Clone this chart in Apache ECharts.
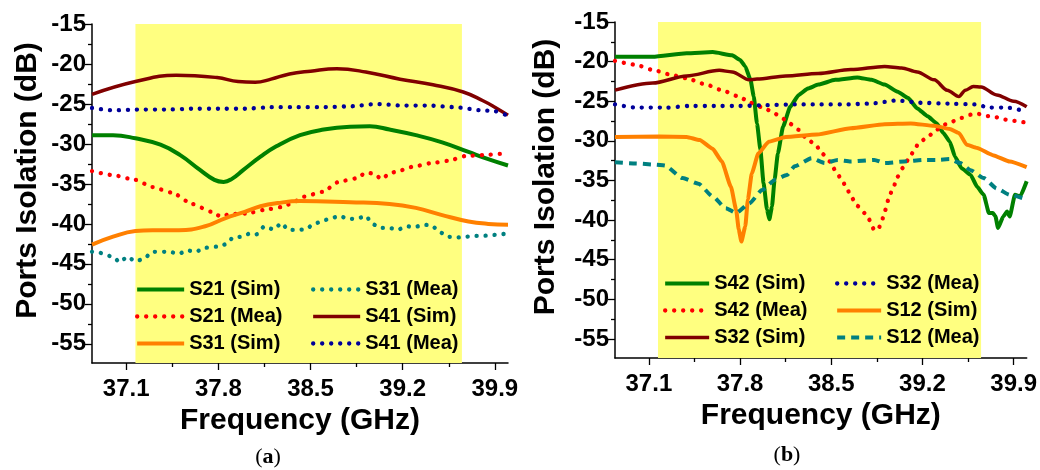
<!DOCTYPE html>
<html>
<head>
<meta charset="utf-8">
<script src="https://cdn.jsdelivr.net/npm/echarts@6/dist/echarts.min.js"></script>
<style>
  html, body { margin: 0; padding: 0; background: #fff; }
  #chart { width: 1040px; height: 470px; }
</style>
</head>
<body>
<div id="chart"></div>
<script>
// axis ticks
const freqTicks = [37.1, 37.8, 38.5, 39.2, 39.9];
const freqMinor = [37.45, 38.15, 38.85, 39.55];
const dbTicks = [-55, -50, -45, -40, -35, -30, -25, -20, -15];
const dbMinor = [-52.5, -47.5, -42.5, -37.5, -32.5, -27.5, -22.5, -17.5];
const band = [37.17, 39.65];

// panel (a)
const s21SimF = [36.84, 37.0, 37.17, 37.36, 37.51, 37.66, 37.77, 37.84, 37.9, 37.99, 38.12, 38.24, 38.42, 38.6, 38.8, 38.95, 39.1, 39.3, 39.5, 39.7, 39.85, 40.0];
const s21SimDb = [-28.9, -28.9, -29.3, -30.1, -31.4, -33.25, -34.5, -34.75, -34.4, -33.25, -31.6, -30.3, -28.9, -28.2, -27.85, -27.8, -28.2, -28.9, -29.8, -31.0, -31.9, -32.7];

const s21MeaF = [36.84, 37.0, 37.17, 37.3, 37.45, 37.6, 37.75, 37.82, 37.88, 38.01, 38.15, 38.28, 38.35, 38.45, 38.59, 38.72, 38.85, 38.92, 38.98, 39.04, 39.1, 39.16, 39.29, 39.42, 39.55, 39.68, 39.81, 39.94, 40.0];
const s21MeaDb = [-33.4, -33.9, -34.5, -35.4, -36.1, -37.5, -38.5, -39.1, -38.8, -38.7, -38.25, -37.9, -37.5, -36.6, -36.0, -34.7, -34.3, -33.6, -33.7, -34.4, -33.7, -33.4, -32.8, -32.4, -32.1, -31.5, -31.4, -31.25, -31.2];

const s31SimF = [36.84, 37.0, 37.17, 37.3, 37.5, 37.7, 37.85, 38.0, 38.12, 38.25, 38.42, 38.8, 39.1, 39.3, 39.5, 39.7, 39.85, 40.0];
const s31SimDb = [-42.6, -41.6, -40.9, -40.8, -40.8, -40.3, -39.3, -38.5, -37.8, -37.4, -37.15, -37.3, -37.5, -38.0, -38.9, -39.7, -40.0, -40.1];

const s31MeaF = [36.84, 36.87, 37.0, 37.05, 37.11, 37.17, 37.23, 37.3, 37.43, 37.5, 37.56, 37.63, 37.69, 37.82, 37.87, 37.91, 37.98, 38.04, 38.09, 38.15, 38.22, 38.28, 38.33, 38.39, 38.46, 38.52, 38.59, 38.66, 38.72, 38.79, 38.86, 38.92, 38.97, 39.03, 39.1, 39.16, 39.23, 39.29, 39.36, 39.42, 39.48, 39.54, 39.61, 39.68, 39.75, 39.81, 39.88, 39.94, 40.0];
const s31MeaDb = [-43.5, -43.5, -44.1, -44.8, -44.1, -44.7, -44.4, -43.5, -43.5, -43.75, -43.3, -43.5, -43.0, -42.8, -42.4, -41.7, -41.6, -41.2, -41.3, -40.3, -40.7, -39.9, -40.75, -40.75, -40.7, -40.1, -39.6, -39.3, -39.0, -39.4, -39.3, -39.0, -40.0, -40.5, -40.5, -40.75, -40.3, -40.4, -40.1, -40.2, -41.0, -41.6, -41.7, -41.6, -41.5, -41.5, -41.4, -41.3, -41.2];

const s41SimF = [36.84, 37.17, 37.48, 37.79, 37.95, 38.08, 38.2, 38.34, 38.5, 38.7, 38.92, 39.18, 39.43, 39.66, 39.81, 39.9, 40.0];
const s41SimDb = [-23.8, -22.2, -21.4, -21.7, -22.2, -22.3, -21.9, -21.25, -20.9, -20.6, -21.0, -21.9, -22.6, -23.5, -24.6, -25.4, -26.4];

const s41MeaF = [36.84, 37.0, 37.2, 37.4, 37.6, 37.8, 38.0, 38.2, 38.4, 38.6, 38.8, 39.0, 39.2, 39.4, 39.6, 39.8, 39.9, 40.0];
const s41MeaDb = [-25.5, -25.8, -25.7, -25.7, -25.6, -25.6, -25.6, -25.4, -25.4, -25.4, -25.3, -25.0, -25.2, -25.2, -25.4, -25.8, -25.9, -26.5];

// panel (b)
const s42SimF = [36.84, 37.13, 37.39, 37.59, 37.74, 37.80, 37.84, 37.88, 37.905, 37.93, 37.956, 37.98, 38.007, 38.025, 38.045, 38.065, 38.09, 38.13, 38.185, 38.25, 38.32, 38.4, 38.53, 38.7, 38.81, 38.91, 39.01, 39.09, 39.16, 39.24, 39.31, 39.36, 39.41, 39.45, 39.5, 39.57, 39.62, 39.67, 39.71, 39.74, 39.76, 39.78, 39.82, 39.85, 39.87, 39.91, 39.95, 40.0];
const s42SimDb = [-19.4, -19.4, -18.95, -18.8, -19.2, -19.8, -20.6, -22.3, -24.4, -27.8, -31.1, -35.3, -38.7, -39.9, -38.3, -34.9, -31.6, -28.2, -25.7, -24.2, -23.4, -22.9, -22.3, -22.0, -22.3, -22.9, -23.8, -24.6, -25.9, -26.9, -27.8, -29.0, -30.1, -32.0, -33.45, -34.3, -35.8, -36.8, -39.1, -39.1, -39.5, -41.0, -39.55, -38.9, -39.55, -36.8, -37.0, -35.1];

const s42MeaF = [36.84, 37.0, 37.13, 37.28, 37.39, 37.54, 37.66, 37.79, 37.88, 37.99, 38.06, 38.12, 38.18, 38.25, 38.31, 38.38, 38.43, 38.49, 38.53, 38.58, 38.62, 38.65, 38.7, 38.77, 38.83, 38.86, 38.89, 38.91, 38.95, 38.98, 39.01, 39.05, 39.09, 39.13, 39.17, 39.24, 39.3, 39.36, 39.42, 39.5, 39.57, 39.63, 39.69, 39.76, 39.83, 39.89, 39.95, 40.0];
const s42MeaDb = [-19.9, -20.4, -21.05, -21.7, -22.1, -22.9, -23.6, -24.4, -25.2, -25.9, -26.5, -27.1, -27.8, -28.6, -29.7, -30.5, -31.6, -32.6, -33.7, -34.9, -36.0, -37.0, -38.2, -39.3, -41.2, -41.2, -40.0, -38.9, -36.8, -35.7, -34.5, -33.4, -32.4, -31.4, -30.3, -29.5, -28.7, -28.0, -27.6, -27.1, -26.7, -26.6, -26.85, -27.0, -27.3, -27.45, -27.6, -27.7];

const s32SimF = [36.84, 37.13, 37.39, 37.64, 37.74, 37.87, 37.93, 38.15, 38.4, 38.65, 38.91, 39.04, 39.16, 39.29, 39.39, 39.48, 39.53, 39.59, 39.65, 39.77, 39.9, 40.0];
const s32SimDb = [-23.6, -22.7, -21.8, -21.1, -21.3, -22.3, -22.2, -21.8, -21.5, -21.0, -20.6, -20.8, -21.3, -22.3, -23.6, -24.4, -23.6, -23.15, -23.2, -24.2, -25.0, -25.7];

const s32MeaF = [36.84, 37.0, 37.24, 37.4, 37.6, 37.8, 38.0, 38.2, 38.4, 38.6, 38.8, 39.0, 39.2, 39.4, 39.6, 39.72, 39.85, 40.0];
const s32MeaDb = [-25.4, -25.8, -25.8, -25.6, -25.6, -25.6, -25.5, -25.4, -25.4, -25.4, -25.3, -24.9, -25.2, -25.3, -25.4, -25.8, -25.8, -26.3];

const s12SimF = [36.84, 37.18, 37.39, 37.49, 37.59, 37.66, 37.73, 37.77, 37.79, 37.81, 37.84, 37.86, 37.89, 37.94, 38.02, 38.15, 38.39, 38.65, 38.91, 39.11, 39.29, 39.41, 39.48, 39.54, 39.62, 39.74, 39.87, 40.0];
const s12SimDb = [-29.5, -29.45, -29.5, -29.9, -31.0, -32.6, -35.8, -38.7, -41.2, -42.7, -40.8, -37.4, -34.1, -31.6, -30.1, -29.5, -29.2, -28.4, -27.9, -27.8, -28.1, -28.5, -29.0, -30.5, -30.9, -31.8, -32.6, -33.3];

const s12MeaF = [36.84, 37.0, 37.15, 37.22, 37.36, 37.48, 37.59, 37.69, 37.77, 37.87, 37.97, 38.07, 38.16, 38.22, 38.35, 38.45, 38.55, 38.65, 38.83, 38.91, 39.06, 39.21, 39.31, 39.41, 39.49, 39.57, 39.67, 39.77, 39.87, 40.0];
const s12MeaDb = [-32.7, -32.85, -33.0, -33.1, -34.7, -35.4, -37.0, -38.5, -39.1, -37.9, -36.2, -34.9, -34.3, -33.2, -32.2, -32.8, -32.4, -32.6, -32.4, -32.8, -32.6, -32.4, -32.4, -32.3, -32.8, -33.7, -34.7, -36.0, -36.8, -37.4];

const font = '"Liberation Sans", Arial, sans-serif';
const dotted = [0.1, 8.9];
const dashed = [8, 6];

function curve(name, f, v, color, type, width, panel, smooth, monotone) {
    return {
        name: name,
        type: 'line',
        xAxisIndex: panel * 2,
        yAxisIndex: panel * 2,
        data: f.map((x, i) => [x, v[i]]),
        symbol: 'none',
        showSymbol: false,
        smooth: smooth,
        smoothMonotone: monotone ? 'x' : null,
        color: color,
        lineStyle: { color: color, width: width, type: type, cap: type === dotted ? 'round' : 'butt', join: 'round' },
        emphasis: { disabled: true },
        z: 3
    };
}

function xAxes(g) {
    const lbl = { fontFamily: font, fontWeight: 'bold', fontSize: 24, color: '#000' };
    return [{
        type: 'value', gridIndex: g, min: 36.84, max: 40.0, position: 'bottom',
        name: 'Frequency (GHz)', nameLocation: 'middle', nameGap: 36,
        nameTextStyle: { fontFamily: font, fontWeight: 'bold', fontSize: 30, color: '#000' },
        axisLine: { onZero: false, lineStyle: { color: '#000', width: 1.5 } },
        axisTick: { customValues: freqTicks, length: 7, lineStyle: { color: '#000', width: 1.3 } },
        axisLabel: Object.assign({ customValues: freqTicks, margin: 14, formatter: v => v.toFixed(1) }, lbl),
        splitLine: { show: false }
    }, {
        type: 'value', gridIndex: g, min: 36.84, max: 40.0, position: 'bottom',
        axisLine: { show: false, onZero: false },
        axisTick: { customValues: freqMinor, length: 4, lineStyle: { color: '#000', width: 1.3 } },
        axisLabel: { show: false },
        splitLine: { show: false }
    }];
}

function yAxes(g, gap) {
    const lbl = { fontFamily: font, fontWeight: 'bold', fontSize: 24, color: '#000' };
    return [{
        type: 'value', gridIndex: g, min: -57.4, max: -15, position: 'left',
        name: 'Ports Isolation (dB)', nameLocation: 'middle', nameRotate: 90, nameGap: gap,
        nameTextStyle: { fontFamily: font, fontWeight: 'bold', fontSize: 30, color: '#000', padding: [0, 0, 0, 26] },
        axisLine: { show: true, onZero: false, lineStyle: { color: '#000', width: 1.5 } },
        axisTick: { customValues: dbTicks, length: 7, lineStyle: { color: '#000', width: 1.3 } },
        axisLabel: Object.assign({ customValues: dbTicks, margin: 6 }, lbl),
        splitLine: { show: false }
    }, {
        type: 'value', gridIndex: g, min: -57.4, max: -15, position: 'left',
        axisLine: { show: false, onZero: false },
        axisTick: { customValues: dbMinor, length: 4, lineStyle: { color: '#000', width: 1.3 } },
        axisLabel: { show: false },
        splitLine: { show: false }
    }];
}

function legendCol(names, left, top, itemWidth) {
    return {
        data: names, orient: 'vertical', left: left, top: top,
        itemWidth: itemWidth, itemHeight: 14, itemGap: 0, padding: 0,
        selectedMode: false,
        lineStyle: { width: 'inherit' },
        itemStyle: { color: 'transparent', borderWidth: 0, opacity: 0 },
        textStyle: { fontFamily: font, fontWeight: 'bold', fontSize: 20, lineHeight: 27, color: '#000' }
    };
}

const green = '#008000', red = '#ff0000', orange = '#ff8000', teal = '#008080', maroon = '#800000', navy = '#000099';

const series = [
    curve('S21 (Sim)', s21SimF, s21SimDb, green, 'solid', 4, 0, 0.45, false),
    curve('S21 (Mea)', s21MeaF, s21MeaDb, red, dotted, 4.3, 0, 0.2, true),
    curve('S31 (Sim)', s31SimF, s31SimDb, orange, 'solid', 4, 0, 0.45, false),
    curve('S31 (Mea)', s31MeaF, s31MeaDb, teal, dotted, 4.3, 0, 0.2, true),
    curve('S41 (Sim)', s41SimF, s41SimDb, maroon, 'solid', 3.5, 0, 0.45, false),
    curve('S41 (Mea)', s41MeaF, s41MeaDb, navy, dotted, 4.3, 0, 0.2, true),
    curve('S42 (Sim)', s42SimF, s42SimDb, green, 'solid', 4, 1, 0.15, true),
    curve('S42 (Mea)', s42MeaF, s42MeaDb, red, dotted, 4.3, 1, 0.2, true),
    curve('S32 (Sim)', s32SimF, s32SimDb, maroon, 'solid', 3.5, 1, 0.3, true),
    curve('S32 (Mea)', s32MeaF, s32MeaDb, navy, dotted, 4.3, 1, 0.2, true),
    curve('S12 (Sim)', s12SimF, s12SimDb, orange, 'solid', 4, 1, 0.15, true),
    curve('S12 (Mea)', s12MeaF, s12MeaDb, teal, dashed, 4, 1, 0.2, true)
];
// yellow band behind both panels
[0, 6].forEach(i => {
    series[i].markArea = {
        silent: true,
        itemStyle: { color: '#ffff80' },
        data: [[{ xAxis: band[0] }, { xAxis: band[1] }]]
    };
});

const chart = echarts.init(document.getElementById('chart'));
chart.setOption({
    animation: false,
    backgroundColor: '#fff',
    grid: [
        { left: 92, top: 24, width: 416, bottom: 107 },
        { left: 615, top: 22, width: 413, bottom: 112 }
    ],
    xAxis: xAxes(0).concat(xAxes(1)),
    yAxis: yAxes(0, 49).concat(yAxes(1, 54)),
    legend: [
        legendCol(['S21 (Sim)', 'S21 (Mea)', 'S31 (Sim)'], 135, 276, 47),
        legendCol(['S31 (Mea)', 'S41 (Sim)', 'S41 (Mea)'], 311, 276, 47),
        legendCol(['S42 (Sim)', 'S42 (Mea)', 'S32 (Sim)'], 663, 270, 44),
        legendCol(['S32 (Mea)', 'S12 (Sim)', 'S12 (Mea)'], 835, 270, 44)
    ],
    graphic: [
        { type: 'text', x: 268, y: 457, style: { text: '({b|a})', fontFamily: '"Liberation Serif", serif', fontSize: 22, fill: '#000', align: 'center', verticalAlign: 'middle', rich: { b: { fontFamily: '"Liberation Serif", serif', fontSize: 22, fontWeight: 'bold' } } } },
        { type: 'text', x: 787, y: 455, style: { text: '({b|b})', fontFamily: '"Liberation Serif", serif', fontSize: 22, fill: '#000', align: 'center', verticalAlign: 'middle', rich: { b: { fontFamily: '"Liberation Serif", serif', fontSize: 22, fontWeight: 'bold' } } } }
    ],
    series: series
});
window.addEventListener('resize', () => chart.resize());
</script>
</body>
</html>
